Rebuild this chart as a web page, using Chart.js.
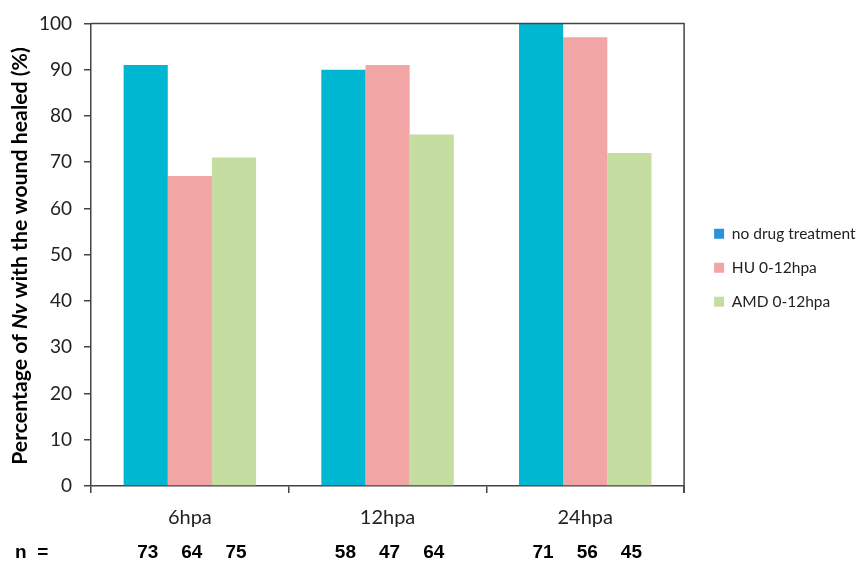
<!DOCTYPE html>
<html>
<head>
<meta charset="utf-8">
<script src="https://cdn.jsdelivr.net/npm/chart.js@4"></script>
<style>
  html, body { margin: 0; padding: 0; background: #fff; }
  #wrap { width: 858px; height: 562px; }
</style>
</head>
<body>
<div id="wrap"><canvas id="chart"></canvas></div>
<script>
const categories = ['6hpa', '12hpa', '24hpa'];
const seriesNames = ['no drug treatment', 'HU 0-12hpa', 'AMD 0-12hpa'];
const noDrug = [91, 90, 100];
const hu = [67, 91, 97];
const amd = [71, 76, 72];
// sample sizes, one per bar
const nNoDrug = [73, 58, 71];
const nHu = [64, 47, 56];
const nAmd = [75, 64, 45];
const yTicks = [0, 10, 20, 30, 40, 50, 60, 70, 80, 90, 100];

const barColors = ['#00b7d1', '#f1a5a4', '#c6dda2'];
const legendColors = ['#2a93d8', '#f1a5a4', '#c6dda2'];
const axisColor = '#444';

// box around plot (top + right edges), y title with italic Nv, n row
const framePlugin = {
  id: 'frame',
  afterDraw(chart) {
    const {ctx, chartArea: a} = chart;
    ctx.save();
    ctx.strokeStyle = axisColor;
    ctx.lineWidth = 1.5;
    ctx.beginPath();
    ctx.moveTo(a.left, a.top);
    ctx.lineTo(a.right, a.top);
    ctx.lineTo(a.right, a.bottom + 7);
    ctx.stroke();

    // y axis title, sized to span the reference length
    const parts = [
      ['Percentage of ', ''],
      ['Nv', 'italic '],
      [' with the wound healed (%)', '']
    ];
    const measure = size => parts.reduce((s, p) => {
      ctx.font = p[1] + 'bold ' + size + 'px Lato';
      return s + ctx.measureText(p[0]).width;
    }, 0);
    const size = 16 * 418 / measure(16);
    const total = measure(size);
    ctx.translate(20, 256);
    ctx.rotate(-Math.PI / 2);
    ctx.fillStyle = '#000';
    ctx.textBaseline = 'middle';
    let x = -total / 2;
    parts.forEach(p => {
      ctx.font = p[1] + 'bold ' + size + 'px Lato';
      ctx.fillText(p[0], x, 0);
      x += ctx.measureText(p[0]).width;
    });
    ctx.restore();

    // n = row, aligned to each bar
    ctx.save();
    ctx.fillStyle = '#000';
    ctx.textBaseline = 'middle';
    ctx.font = 'bold 19px "Liberation Sans", Arial';
    ctx.textAlign = 'left';
    ctx.fillText('n  =', 15, 553);
    ctx.textAlign = 'center';
    [nNoDrug, nHu, nAmd].forEach((arr, i) => {
      const meta = chart.getDatasetMeta(i);
      arr.forEach((v, j) => {
        ctx.fillText(String(v), meta.data[j].x + 2, 553);
      });
    });
    ctx.restore();
  }
};

const ctx = document.getElementById('chart');
new Chart(ctx, {
  type: 'bar',
  data: {
    labels: categories,
    datasets: [
      {label: seriesNames[0], data: noDrug, backgroundColor: barColors[0]},
      {label: seriesNames[1], data: hu, backgroundColor: barColors[1]},
      {label: seriesNames[2], data: amd, backgroundColor: barColors[2]}
    ]
  },
  options: {
    responsive: true,
    maintainAspectRatio: false,
    animation: false,
    categoryPercentage: 0.67,
    barPercentage: 1,
    // legend's empty trailing padding may hang off the right edge
    layout: { padding: { top: 20, right: -7.5, bottom: 0, left: 0 } },
    plugins: {
      tooltip: { enabled: false },
      legend: {
        position: 'right',
        align: 'start',
        maxWidth: 220,
        // empty title only used to push the entries down
        title: {
          display: true,
          text: ' ',
          color: 'rgba(0,0,0,0)',
          font: { size: 10 },
          padding: { top: 175.5, bottom: 0 }
        },
        labels: {
          boxWidth: 10,
          boxHeight: 10,
          padding: 18.5,
          color: '#222',
          font: { family: 'Lato', size: 15.5 },
          generateLabels(chart) {
            return seriesNames.map((name, i) => ({
              text: name,
              fillStyle: legendColors[i],
              strokeStyle: legendColors[i],
              fontColor: '#222',
              lineWidth: 0,
              datasetIndex: i
            }));
          }
        }
      }
    },
    scales: {
      x: {
        afterFit(scale) { scale.height = 76; },
        grid: {
          offset: true,
          drawOnChartArea: false,
          drawTicks: true,
          tickLength: 7,
          color: axisColor,
          lineWidth: 1.5
        },
        border: { color: axisColor, width: 1.5 },
        ticks: {
          color: '#222',
          padding: 13,
          font: { family: 'Lato', size: 20 }
        }
      },
      y: {
        min: 0,
        max: 100,
        afterBuildTicks(scale) {
          scale.ticks = yTicks.map(v => ({value: v}));
        },
        afterFit(scale) { scale.width = 91; },
        grid: {
          drawOnChartArea: false,
          drawTicks: true,
          tickLength: 7,
          color: axisColor,
          lineWidth: 1.5
        },
        border: { color: axisColor, width: 1.5 },
        ticks: {
          color: '#222',
          padding: 12,
          font: { family: 'Lato', size: 19 }
        }
      },
      gap: {
        position: 'right',
        display: true,
        afterFit(scale) { scale.width = 11.5; },
        grid: { display: false },
        border: { display: false },
        ticks: { display: false }
      }
    }
  },
  plugins: [framePlugin]
});
</script>
</body>
</html>
